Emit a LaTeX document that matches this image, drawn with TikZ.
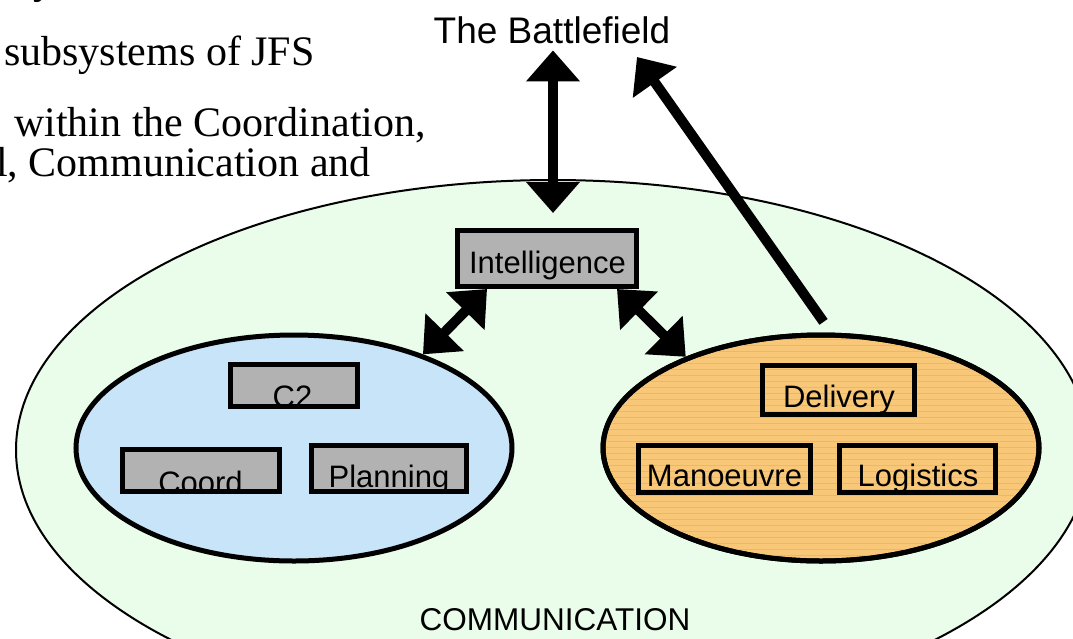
\documentclass[tikz,border=0pt]{standalone}
\usepackage{fontspec}
\setmainfont{Liberation Serif}
\newfontfamily\arialfont{Liberation Sans}
\usetikzlibrary{shapes.geometric,arrows.meta,calc}

\definecolor{commgreen}{HTML}{EAFCEA}
\definecolor{planblue}{HTML}{C7E4F8}
\definecolor{actorange}{HTML}{F8C878}
\definecolor{stripeorange}{HTML}{F4B850}
\definecolor{boxgray}{HTML}{B2B2B2}

\begin{document}
\begin{tikzpicture}[x=1pt,y=-1pt,
  sysbox/.style={draw=black,line width=5pt,inner sep=0pt},
  graybox/.style={sysbox,fill=boxgray},
  boxlabel/.style={inner sep=0pt,anchor=base,font=\arialfont\fontsize{31}{31}\selectfont},
  bodytext/.style={inner sep=0pt,anchor=base west,font=\fontsize{42}{42}\selectfont},
  subsys/.style={ellipse,draw=black,line width=5pt,inner sep=0pt,
    minimum width=436pt,minimum height=226pt},
  arrowhead/.tip={Triangle[width=52pt,length=31pt]},
  bigarrow/.style={line width=10pt,-arrowhead},
  dblarrow/.style={line width=10pt,arrowhead-arrowhead}]

\useasboundingbox (0,0) rectangle (1073,638);

% text lines at the left
\node[bodytext] (tx0) at (33,-7) {y};
\node[bodytext] (tx1) at (4,65) {subsystems of JFS};
\node[bodytext] (tx2) at (14,136) {within the Coordination,};
\node[bodytext] (tx3) at (-4,176) {l, Communication and};

% communication layer
\node[ellipse,draw=black,line width=2pt,fill=commgreen,inner sep=0pt,
  minimum width=1074pt,minimum height=540pt] (comm) at (553,450) {};
\node[boxlabel,font=\arialfont\fontsize{31.5}{31.5}\selectfont] (commlbl) at (555,630) {COMMUNICATION};

% planning subsystem
\node[subsys,fill=planblue] (blue) at (294,448) {};

% action subsystem with striped fill
\node[subsys,fill=actorange] (orange) at (821,448) {};
\begin{scope}
  \clip (821,448) ellipse [x radius=215.5pt,y radius=110.5pt];
  \foreach \yy in {339,345,...,560}
    \draw[stripeorange,line width=0.9pt] (600,\yy) -- (1040,\yy);
\end{scope}
\node[subsys] (orangeedge) at (821,448) {};

% boxes
\node[graybox,minimum width=179pt,minimum height=56pt] (intel) at (547,258.5) {};
\node[graybox,minimum width=127pt,minimum height=42pt] (c2) at (294,385.5) {};
\node[graybox,minimum width=157pt,minimum height=42pt] (coord) at (201,470.5) {};
\node[graybox,minimum width=155pt,minimum height=46pt] (plan) at (389,468.5) {};
\node[sysbox,minimum width=152pt,minimum height=49pt] (deliv) at (838.5,390) {};
\node[sysbox,minimum width=172pt,minimum height=47pt] (manoe) at (724.5,469) {};
\node[sysbox,minimum width=156pt,minimum height=47pt] (logis) at (917.5,469) {};

% labels, kept inside their boxes
\begin{scope}
  \clip ($(intel.south west)+(5,-5)$) rectangle ($(intel.north east)+(-5,5)$);
  \node[boxlabel] (intellbl) at (547.5,273.3) {Intelligence};
\end{scope}
\begin{scope}
  \clip ($(c2.south west)+(5,-5)$) rectangle ($(c2.north east)+(-5,5)$);
  \node[boxlabel] (c2lbl) at (292.5,407.5) {C2};
\end{scope}
\begin{scope}
  \clip ($(coord.south west)+(5,-5)$) rectangle ($(coord.north east)+(-5,5)$);
  \node[boxlabel] (coordlbl) at (200.5,493) {Coord};
\end{scope}
\begin{scope}
  \clip ($(plan.south west)+(5,-5)$) rectangle ($(plan.north east)+(-5,5)$);
  \node[boxlabel] (planlbl) at (389,487) {Planning};
\end{scope}
\node[boxlabel] (delivlbl) at (839,407.3) {Delivery};
\node[boxlabel] (manoelbl) at (724.5,486.7) {Manoeuvre};
\node[boxlabel] (logislbl) at (918,486.7) {Logistics};

% the battlefield and the links to it
\node[boxlabel,font=\arialfont\fontsize{37}{37}\selectfont] (bf) at (552,43.3) {The Battlefield};
\coordinate (bfpoint) at (637,57);

\draw[dblarrow,shorten <=6.5pt,shorten >=15pt] ($(bf.south)+(1,0)$) -- ($(bf.south |- intel.north)+(1,0)$);
\draw[bigarrow,shorten <=13pt] ($(orange.north)+(10,0)$) -- (bfpoint);
\draw[dblarrow] ($(intel.south west)+(32,0)$) -- (blue.36);
\draw[dblarrow] ($(intel.south east)+(-22,0)$) -- (orange.146);

\end{tikzpicture}
\end{document}
